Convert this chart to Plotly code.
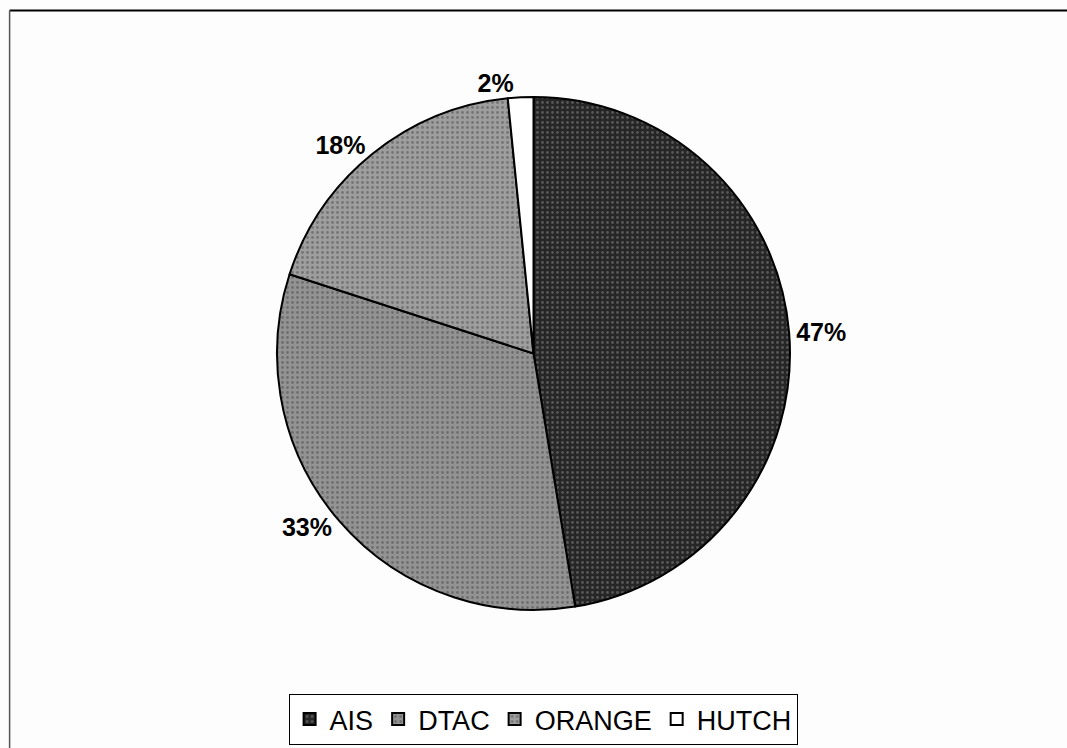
import plotly.graph_objects as go

labels = ["AIS", "DTAC", "ORANGE", "HUTCH"]
values = [47.4, 32.6, 18.4, 1.6]
colors = ["#262626", "#939393", "#9e9e9e", "#ffffff"]
pattern_fg = ["#8a8a8a", "#4a4a4a", "#4a4a4a", "#ffffff"]

W, H = 1067, 748

fig = go.Figure()
fig.add_trace(go.Pie(
    labels=labels,
    values=values,
    sort=False,
    direction="clockwise",
    rotation=0,
    marker=dict(
        colors=colors,
        line=dict(color="#000000", width=2),
        pattern=dict(shape=[".", ".", ".", ""], fgcolor=pattern_fg,
                     size=5, solidity=0.25, fillmode="overlay"),
    ),
    textposition="outside",
    texttemplate="<b>%{percent:.0%}</b>",
    outsidetextfont=dict(family="Liberation Sans, Arial", size=25, color="#000000"),
    domain=dict(x=[0.2, 0.8], y=[0.1845, 0.8703]),
    showlegend=True,
))

fig.update_layout(
    width=W, height=H,
    margin=dict(l=0, r=0, t=0, b=0),
    paper_bgcolor="#fdfdfd",
    plot_bgcolor="#fdfdfd",
    legend=dict(
        orientation="h",
        x=0.509, xanchor="center",
        y=0.004, yanchor="bottom",
        bordercolor="#000000", borderwidth=1,
        bgcolor="#ffffff",
        font=dict(family="Liberation Sans, Arial", size=27, color="#000000"),
        itemsizing="constant",
    ),
    shapes=[
        dict(type="line", xref="paper", yref="paper", x0=0.009, x1=1.0, y0=0.986, y1=0.986,
             line=dict(color="#000000", width=2)),
        dict(type="line", xref="paper", yref="paper", x0=0.009, x1=0.009, y0=0.0, y1=0.986,
             line=dict(color="#555555", width=1.5)),
    ],
)

fig.write_html("out.html")
